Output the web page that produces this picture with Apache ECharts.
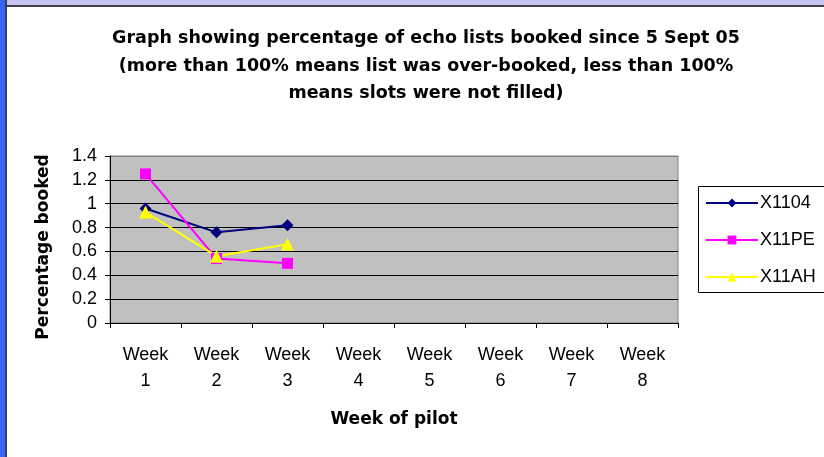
<!DOCTYPE html>
<html>
<head>
<meta charset="utf-8">
<script src="https://cdn.jsdelivr.net/npm/echarts@6/dist/echarts.min.js"></script>
<style>html,body{margin:0;padding:0;background:#fff;}#c{width:824px;height:457px;}</style>
</head>
<body>
<div id="c"></div>
<script>
const categories = ['Week\n1','Week\n2','Week\n3','Week\n4','Week\n5','Week\n6','Week\n7','Week\n8'];
const seriesNames = ['X1104','X11PE','X11AH'];
const x1104 = [0.96, 0.76, 0.82];
const x11pe = [1.25, 0.54, 0.50];
const x11ah = [0.93, 0.56, 0.66];
const yTickLabels = ['0','0.2','0.4','0.6','0.8','1','1.2','1.4'];
const titleText = 'Graph showing percentage of echo lists booked since 5 Sept 05\n(more than 100% means list was over-booked, less than 100%\nmeans slots were not filled)';
const yName = 'Percentage booked';
const xName = 'Week of pilot';

const chart = echarts.init(document.getElementById('c'), null, {renderer:'canvas'});
const F = 'Arial, "Liberation Sans", sans-serif';
const FB = '"DejaVu Sans", sans-serif';
chart.setOption({
  backgroundColor:'#fff',
  animation:false,
  title:{
    text:titleText,
    left:421, top:20, textAlign:'center',
    textStyle:{fontFamily:FB,fontSize:17.5,fontWeight:'bold',color:'#000',lineHeight:27.5}
  },
  graphic:[
    {type:'rect',shape:{x:0,y:0,width:824,height:6},style:{fill:'#c4c4f0'},silent:true},
    {type:'rect',shape:{x:0,y:0,width:5,height:457},style:{fill:'#3366ff'},silent:true},
    {type:'rect',shape:{x:5,y:0,width:2,height:457},style:{fill:'#404048'},silent:true},
    {type:'rect',shape:{x:5,y:5,width:819,height:2},style:{fill:'#404048'},silent:true},
    {type:'rect',shape:{x:698.5,y:186.5,width:140,height:106},style:{fill:'#fff',stroke:'#000',lineWidth:1},silent:true},
    {type:'text',x:44,y:247,rotation:Math.PI/2,silent:true,
      style:{text:yName,fontFamily:FB,fontSize:17,fontWeight:'bold',fill:'#000',align:'center',verticalAlign:'middle'}}
  ],
  legend:{
    orient:'vertical', left:699, top:187,
    padding:[7,6,6,6],
    itemGap:19, itemWidth:52, itemHeight:11,
    textStyle:{fontFamily:F,fontSize:18,color:'#000',padding:[0,0,0,-3]},
    data:seriesNames
  },
  grid:{left:110, top:156, width:568, height:167, show:true, backgroundColor:'#c0c0c0', borderColor:'#808080', borderWidth:1},
  xAxis:{
    type:'category', data:categories, boundaryGap:true,
    name:xName, nameLocation:'middle', nameGap:88,
    nameTextStyle:{fontFamily:FB,fontSize:17,fontWeight:'bold',color:'#000'},
    axisLine:{lineStyle:{color:'#000',width:1}},
    axisTick:{show:true,length:5,lineStyle:{color:'#000'}},
    axisLabel:{fontFamily:F,fontSize:18,color:'#000',lineHeight:26,margin:19}
  },
  yAxis:{
    type:'value', min:0, max:1.4, interval:0.2,
    axisLine:{show:true,lineStyle:{color:'#000',width:1}},
    axisTick:{show:true,length:5,lineStyle:{color:'#000'}},
    axisLabel:{fontFamily:F,fontSize:18,color:'#000',margin:13,
      formatter:function(v){return yTickLabels[Math.round(v/0.2)];}},
    splitLine:{show:true,lineStyle:{color:['#000','#000','#000','#000','#000','#000','#000','#808080'],width:1}}
  },
  series:[
    {name:seriesNames[0],type:'line',data:x1104,symbol:'diamond',symbolSize:12,color:'#000080',lineStyle:{width:2,color:'#000080'},itemStyle:{color:'#000080'}},
    {name:seriesNames[1],type:'line',data:x11pe,symbol:'rect',symbolSize:11,color:'#ff00ff',lineStyle:{width:2,color:'#ff00ff'},itemStyle:{color:'#ff00ff'}},
    {name:seriesNames[2],type:'line',data:x11ah,symbol:'triangle',symbolSize:13,color:'#ffff00',lineStyle:{width:2,color:'#ffff00'},itemStyle:{color:'#ffff00'}}
  ]
});
</script>
</body>
</html>
